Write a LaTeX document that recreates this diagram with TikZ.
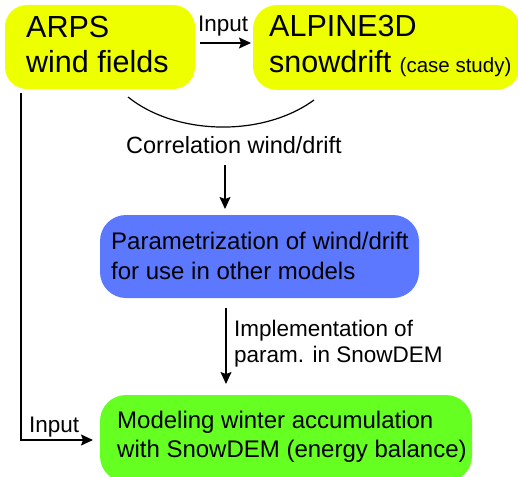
\documentclass[tikz,border=0pt]{standalone}
\usepackage{fontspec}
\setmainfont{Liberation Sans}
\usetikzlibrary{arrows.meta}
\definecolor{boxyellow}{HTML}{EEFF00}
\definecolor{boxblue}{HTML}{5B78FF}
\definecolor{boxgreen}{HTML}{66FF22}
\tikzset{
  flow/.style={draw=black, line width=1.2pt, -{Stealth[length=12pt,width=11pt,inset=2pt]}},
  txt/.style={anchor=base west, inner sep=0pt, font=#1},
}
\newcommand{\bigsz}{\fontsize{30.5}{35}\selectfont}
\newcommand{\midsz}{\fontsize{24}{28}\selectfont}
\newcommand{\smlsz}{\fontsize{22.5}{26}\selectfont}
\begin{document}
\begin{tikzpicture}[x=1pt,y=-1pt]
\useasboundingbox (0,0) rectangle (518,476);
% boxes
\fill[boxyellow, rounded corners=22pt] (5,5) rectangle (195,89);
\fill[boxyellow, rounded corners=24pt] (253,5) rectangle (520,90);
\fill[boxblue, rounded corners=26pt] (100,215) rectangle (419,298);
\fill[boxgreen, rounded corners=26pt] (100,395) rectangle (472,482);
% box labels
\node[txt=\bigsz] (arps1) at (26,38) {ARPS};
\node[txt=\bigsz] (arps2) at (26,73) {wind fields};
\node[txt=\bigsz] (alp1) at (269,37) {ALPINE3D};
\node[txt=\bigsz] (alp2) at (269,73) {snowdrift {\fontsize{20.5}{24}\selectfont (case study)}};
\node[txt=\midsz] (par1) at (111,249) {Parametrization of wind/drift};
\node[txt=\midsz] (par2) at (111,279) {for use in other models};
\node[txt=\midsz] (mod1) at (117,428) {Modeling winter accumulation};
\node[txt=\midsz] (mod2) at (117,457) {with SnowDEM (energy balance)};
% connector labels
\node[txt=\smlsz] (in1) at (198,32) {Input};
\node[txt=\fontsize{23.5}{28}\selectfont] (corr) at (126,153) {Correlation wind/drift};
\node[txt=\smlsz] (imp1) at (234,336) {Implementation of};
\node[txt=\smlsz] (imp2) at (234,362) {param. in SnowDEM};
\node[txt=\smlsz] (in2) at (29,432) {Input};
% connector end points
\coordinate (a1s) at (200,43);
\coordinate (a1e) at (251,43);
\coordinate (arcL) at (128,97);
\coordinate (arcR) at (314,100);
\coordinate (a2s) at (225,165);
\coordinate (a2e) at (225,209);
\coordinate (a3s) at (226,308);
\coordinate (a3e) at (226,384);
\coordinate (lineTop) at (21,93);
\coordinate (lineBend) at (21,440);
\coordinate (a4e) at (93,440);
% connectors
\draw[flow] (a1s) -- (a1e);
\draw[line width=1.2pt] (arcL) .. controls (175,135) and (262,138) .. (arcR);
\draw[flow] (a2s) -- (a2e);
\draw[flow] (a3s) -- (a3e);
\draw[flow] (lineTop) -- (lineBend) -- (a4e);
\end{tikzpicture}
\end{document}
